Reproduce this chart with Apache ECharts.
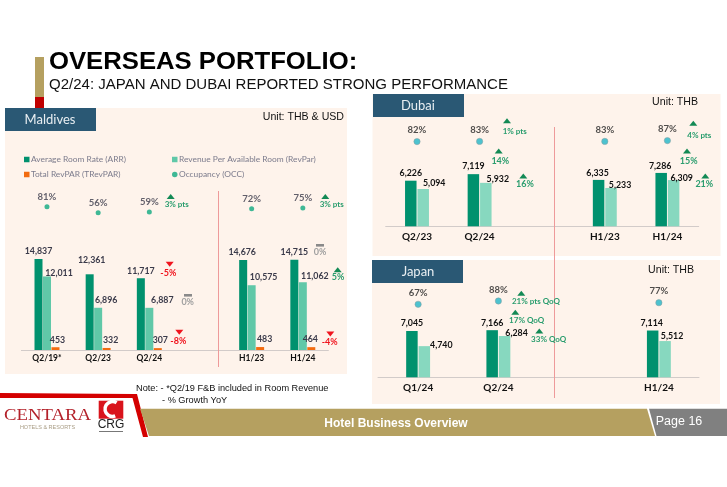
<!DOCTYPE html>
<html><head><meta charset="utf-8">
<style>html,body{margin:0;padding:0;background:#fff}#c{width:727px;height:487px}</style>
<script src="https://cdn.jsdelivr.net/npm/echarts@6/dist/echarts.min.js"></script>
</head><body><div id="c"></div>
<script>
// ---------- data ----------
const maldivesCategories = ['Q2/19*','Q2/23','Q2/24','','H1/23','H1/24'];
const maldivesARR     = [14837,12361,11717,null,14676,14715];
const maldivesRevPAR  = [12011,6896,6887,null,10575,11062];
const maldivesTRevPAR = [453,332,307,null,483,464];
const maldivesOCC     = [81,56,59,null,72,75];

const dubaiCategories = ['Q2/23','Q2/24','','H1/23','H1/24'];
const dubaiARR    = [6226,7119,null,6335,7286];
const dubaiRevPAR = [5094,5932,null,5233,6309];
const dubaiOCC    = [82,83,null,83,87];

const japanCategories = ['Q1/24','Q2/24','','H1/24'];
const japanARR    = [7045,7166,null,7114];
const japanRevPAR = [4740,6284,null,5512];
const japanOCC    = [67,88,null,77];

// ---------- label nudges (layout only) ----------
const off = {
  mARR:[[0,-3],[2,-10],[0,-3],null,[-1,-3],[0,-3]],
  mRev:[[12,1],[8,-3],[13,-3],null,[12,-4],[12,-2]],
  mT:[[2,-3],[4,-3],[2.5,-3],null,[4.5,-3],[-1,-3]],
  dARR:[[0,-3],[0,-3],null,[-1,-2],[-1,-2]],
  dRev:[[11,-1],[12,1],null,[9,2],[8,3]],
  jARR:[[0,-3],[0,-3],null,[-1,-3]],
  jRev:[[17,4],[12,2],null,[7,0]]
};

// ---------- colours / fonts ----------
const DARK='#00916e', LIGHT='#60c8a8', LIGHT2='#87d8bf', ORANGE='#f26b0f', PANEL='#fef3eb', NAVY='#2a5874',
      GREEN='#2a9d6e', TRI='#138a55', RED='#f0141e', GREY='#8a8a8a';
const GF='Lato, "Open Sans", sans-serif', AF='"Liberation Sans", Arial, sans-serif';

const fmt = p => p.value==null?'':Number(p.value).toLocaleString('en-US');
const num = (vals,o) => vals.map((v,i)=>({value:v,label:{offset:o[i]||[0,0]}}));
function bars(name,x,y,vals,o,color,w,gap,lblColor,fs){
  return {type:'bar',name,xAxisIndex:x,yAxisIndex:y,data:num(vals,o),barWidth:w,barGap:gap,
    itemStyle:{color},z:3,
    label:{show:true,position:'top',distance:0,formatter:fmt,color:lblColor,fontFamily:GF,fontWeight:'bold',fontSize:fs}};
}
function occ(name,x,y,vals,color,size,dist,lblColor,fs,border){
  return {type:'scatter',name,xAxisIndex:x,yAxisIndex:y,data:vals,symbol:'circle',symbolSize:size,
    itemStyle:{color,borderColor:border||color,borderWidth:border?0.6:0},z:4,
    label:{show:true,position:'top',distance:dist,formatter:p=>p.value==null?'':p.value+'%',color:lblColor,fontFamily:GF,fontWeight:'bold',fontSize:fs}};
}
function xAx(cats,idx,fs,margin){
  return {type:'category',gridIndex:idx,data:cats,
    axisLine:{show:true,lineStyle:{color:'#d2cbc9',width:1}},axisTick:{show:false},
    axisLabel:{show:true,interval:0,color:'#111',fontFamily:GF,fontWeight:'bold',fontSize:fs,margin}};
}
function hiddenX(cats,idx){
  return {type:'category',gridIndex:idx,data:cats,show:false};
}
const yAx=(idx,max)=>({type:'value',gridIndex:idx,min:0,max,show:false,splitLine:{show:false}});

// ---------- decorations ----------
const g=[];
const rect=(x,y,w,h,fill,z)=>g.push({type:'rect',z:z==null?-1:z,silent:true,shape:{x,y,width:w,height:h},style:{fill}});
const poly=(pts,fill,z)=>g.push({type:'polygon',z:z==null?5:z,silent:true,shape:{points:pts},style:{fill}});
const txt=(t,x,y,font,fill,align,sx)=>g.push({type:'text',z:6,silent:true,x,y,scaleX:sx||1,
  style:{text:t,font,fill,align:align||'left',verticalAlign:'middle'}});
const vline=(x,y1,y2)=>g.push({type:'line',z:1,silent:true,shape:{x1:x,y1,x2:x,y2},style:{stroke:'#ee9a9a',lineWidth:1}});
const up=(x,y)=>poly([[x-4,y+2.5],[x+4,y+2.5],[x,y-2.5]],TRI);
const down=(x,y)=>poly([[x-4,y-2.5],[x+4,y-2.5],[x,y+2.5]],RED);
const dash=(x,y)=>rect(x-4,y-1.3,8,2.6,GREY,5);
const pct=(t,x,y,c)=>txt(t,x,y,'bold '+(t.includes(' ')?8:9)+'px '+GF,c,'center');

// title block
rect(35,57,9,40,'#b5a060');
rect(35,97,9,11,'#c00000');
txt('OVERSEAS PORTFOLIO:',49,62,'bold 24px '+AF,'#000','left',1.07);
txt('Q2/24: JAPAN AND DUBAI REPORTED STRONG PERFORMANCE',49,85,'14px '+AF,'#111','left',1.072);

// panels
rect(5,108,342,266,PANEL);
rect(372.5,94,348,162,PANEL);
rect(372,260,348,144,PANEL);
rect(5,108,91,23,NAVY,0);
rect(373,94,91,23,NAVY,0);
rect(372,260,91,23,NAVY,0);
const hFont='13px '+GF;
txt('Maldives',50,120,hFont,'#e8eef2','center');
txt('Dubai',418,106,hFont,'#e8eef2','center');
txt('Japan',418,272,hFont,'#e8eef2','center');
txt('Unit: THB & USD',344,117,'10.6px '+AF,'#111','right');
txt('Unit: THB',698,102,'10.6px '+AF,'#111','right');
txt('Unit: THB',694,270,'10.6px '+AF,'#111','right');

// period separators
vline(218.5,191,367);
vline(554.5,127,398);

// Maldives annotations
up(170.7,196.5); pct('3% pts',176.7,204.7,GREEN);
up(325.3,196.5); pct('3% pts',331.7,204.7,GREEN);
down(169.7,264.3); pct('-5%',168.3,272.7,RED);
dash(188,295.3); pct('0%',187.7,302.3,'#a0a0a0');
down(179.3,332.3); pct('-8%',178.3,340.7,RED);
dash(320,245.3); pct('0%',320,252.3,'#a0a0a0');
up(337.7,269.7); pct('5%',338,277.3,GREEN);
down(330.3,334); pct('-4%',329.7,342.3,RED);

// Dubai annotations
up(507,120.7); pct('1% pts',514.7,131.3,GREEN);
up(498.7,151); pct('14%',500.3,161,GREEN);
up(523.3,176); pct('16%',525,184.3,GREEN);
up(693.3,123.3); pct('4% pts',699.3,135.3,GREEN);
up(687,151); pct('15%',688.7,161,GREEN);
up(705.3,176); pct('21%',704.3,184.3,GREEN);

// Japan annotations
up(521.3,293.3); pct('21% pts QoQ',536,301.7,GREEN);
up(515.3,312.3); pct('17% QoQ',526.7,320.3,GREEN);
up(539.3,331); pct('33% QoQ',548.7,339.3,GREEN);

// notes
txt('Note: - *Q2/19 F&B included in Room Revenue',136,388.7,'9.6px '+AF,'#111','left',0.96);
txt('- % Growth YoY',162,400,'9.6px '+AF,'#111','left',0.96);

// footer
poly([[0,393],[133,394],[137,394],[148,437],[143,437],[132.5,398],[0,398]],'#d40000',2);
poly([[140,408.7],[647,408.7],[655,436],[149,436]],'#b5a060',2);
poly([[649,408.7],[727,408.7],[727,436],[656.5,436]],'#808080',2);
txt('Hotel Business Overview',396,424,'bold 12px '+AF,'#fff','center');
txt('Page 16',679,421.5,'12.5px '+AF,'#fff','center');
txt('CENTARA',4,416,'16px "Liberation Serif", serif','#b3212a','left',1.17);
txt('HOTELS & RESORTS',47.5,427,'5.5px '+AF,'#a89c84','center');
rect(98.7,400.7,24.6,18,'#d9141c',2);
g.push({type:'arc',z:3,silent:true,shape:{cx:112.5,cy:409,r:7.5,startAngle:-1.0,endAngle:1.2,clockwise:false},style:{stroke:'#fff',fill:'none',lineWidth:3.5}});
txt('CRG',111,425,'12px '+AF,'#222','center');
rect(99,431,24,1,'#777',2);

// ---------- chart ----------
const chart=echarts.init(document.getElementById('c'),null,{renderer:'canvas',width:727,height:487});
const mkLegend=(name,left,top,icon)=>({data:[{name,icon:icon||'rect'}],left,top,itemWidth:5.5,itemHeight:5.5,padding:0,itemGap:0,selectedMode:false,
  textStyle:{color:'#7b7b8c',fontFamily:GF,fontSize:8.4,padding:[0,0,0,-3.5]}});
chart.setOption({
  animation:false,backgroundColor:'#fff',tooltip:{show:false},
  legend:[
    mkLegend('Average Room Rate (ARR)',24,155.5),
    mkLegend('Revenue Per Available Room (RevPar)',172,155.5),
    mkLegend('Total RevPAR (TRevPAR)',24,170.5),
    mkLegend('Occupancy (OCC)',172,170.5,'circle')
  ],
  grid:[
    {left:21.4,top:252,width:307,height:98},
    {left:21.4,top:202.1,width:307,height:24},
    {left:385.7,top:167.7,width:313,height:58.6},
    {left:385.7,top:138,width:313,height:20},
    {left:378,top:324.7,width:321,height:52.6},
    {left:378,top:299.1,width:321,height:15.7}
  ],
  xAxis:[
    xAx(maldivesCategories,0,8.5,4), hiddenX(maldivesCategories,1),
    xAx(dubaiCategories,2,10,5), hiddenX(dubaiCategories,3),
    xAx(japanCategories,4,10,5), hiddenX(japanCategories,5)
  ],
  yAxis:[yAx(0,16000),yAx(1,100),yAx(2,8000),yAx(3,100),yAx(4,8000),yAx(5,100)],
  series:[
    bars('Average Room Rate (ARR)',0,0,maldivesARR,off.mARR,DARK,8,'6%','#3a3a4a',8.8),
    bars('Revenue Per Available Room (RevPar)',0,0,maldivesRevPAR,off.mRev,LIGHT,8,'6%','#3a3a4a',8.8),
    bars('Total RevPAR (TRevPAR)',0,0,maldivesTRevPAR,off.mT,ORANGE,8,'6%','#3a3a4a',8.8),
    occ('Occupancy (OCC)',1,1,maldivesOCC,'#0fa980',5,2.5,'#3a3a4a',9.5),
    bars('Dubai ARR',2,2,dubaiARR,off.dARR,DARK,11.5,'8%','#111',8.8),
    bars('Dubai RevPAR',2,2,dubaiRevPAR,off.dRev,LIGHT2,11.5,'8%','#111',8.8),
    occ('Dubai OCC',3,3,dubaiOCC,'#21b5c8',6.3,3,'#222',9.5,'#8a9a9a'),
    bars('Japan ARR',4,4,japanARR,off.jARR,DARK,11.5,'8%','#111',8.8),
    bars('Japan RevPAR',4,4,japanRevPAR,off.jRev,LIGHT2,11.5,'8%','#111',8.8),
    occ('Japan OCC',5,5,japanOCC,'#21b5c8',6.3,3,'#222',9.5,'#8a9a9a')
  ],
  graphic:{elements:g}
});
</script></body></html>
